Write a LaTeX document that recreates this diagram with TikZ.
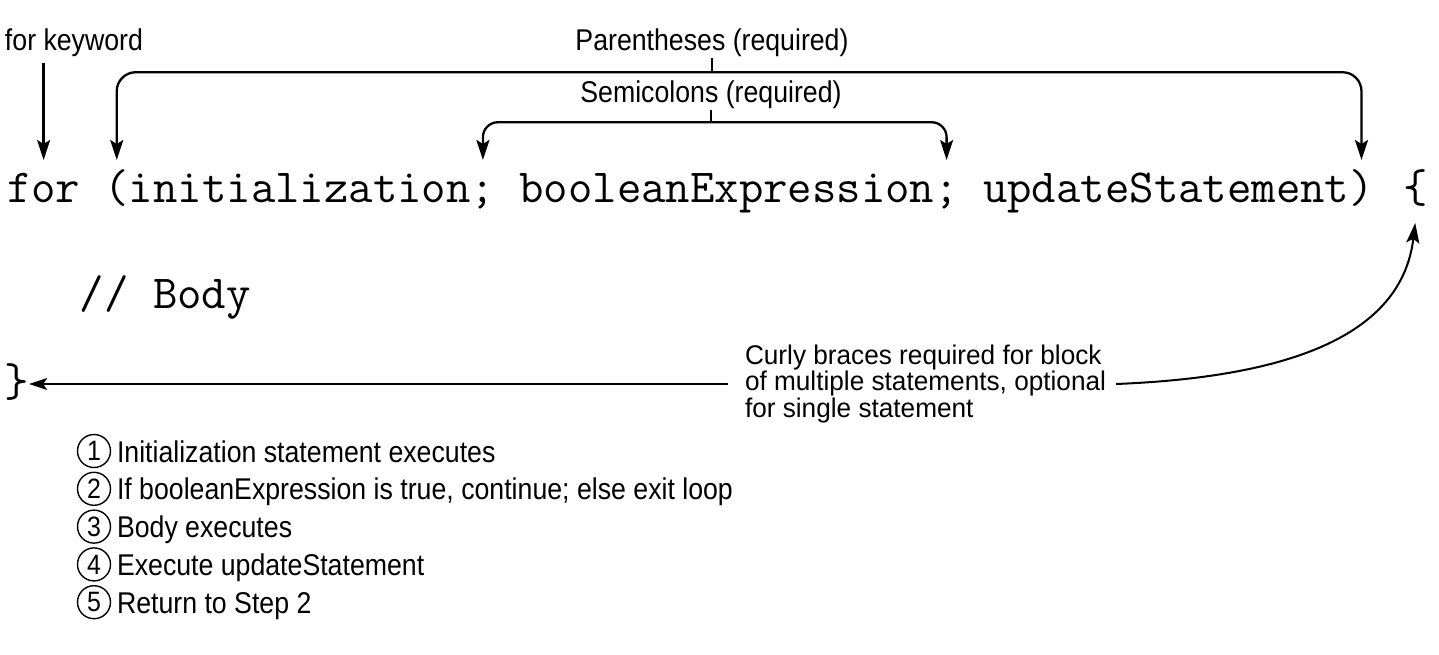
\documentclass[tikz,border=0pt]{standalone}
\usepackage{fontspec}
\setmainfont[FakeStretch=0.89]{Liberation Sans}
\newfontfamily\curlyfont[FakeStretch=0.97]{Liberation Sans}
\usetikzlibrary{arrows.meta,calc}
\begin{document}
\begin{tikzpicture}[x=1pt,y=-1pt,
  lbl/.style={font=\fontsize{30}{34}\selectfont, inner sep=0pt, outer sep=0pt},
  code/.style={font=\ttfamily\fontsize{47.4}{50}\selectfont, inner sep=0pt, outer sep=0pt, anchor=base west, text height=30pt, text depth=9pt},
  sp/.style={xshift=24.3pt},
  arr/.style={line width=2.3pt, -{Stealth[length=20pt,width=13pt,inset=4pt]}},
  barr/.style={line width=2.3pt, {Stealth[length=20pt,width=13pt,inset=4pt]}-{Stealth[length=20pt,width=13pt,inset=4pt]}, rounded corners=19pt},
  sarr/.style={line width=2.3pt, {Stealth[length=20pt,width=13pt,inset=4pt]}-{Stealth[length=20pt,width=13pt,inset=4pt]}, rounded corners=15pt},
  thinarr/.style={line width=1.4pt, -{Stealth[length=18pt,width=12pt,inset=4pt]}},
  curvearr/.style={line width=2pt, -{Stealth[length=20pt,width=13pt,inset=4pt]}},
  tick/.style={line width=1.6pt},
  num/.style={circle, draw, line width=1.4pt, minimum size=33pt, inner sep=0pt, font=\fontsize{28}{28}\selectfont},
]
\useasboundingbox (0,0) rectangle (1439,654);

% labels
\node[lbl, anchor=base west] (kwlbl) at (5,50) {for keyword};
\node[lbl, anchor=base] (parlbl) at (712,50) {Parentheses (required)};
\node[lbl, anchor=base] (semlbl) at (711,102) {Semicolons (required)};

% code line
\node[code] (kw) at (7,202) {for};
\node[code] (lpar) at ([sp]kw.base east) {(};
\node[code] (init) at (lpar.base east) {initialization};
\node[code] (semi1) at (init.base east) {;};
\node[code] (bexp) at ([sp]semi1.base east) {booleanExpression};
\node[code] (semi2) at (bexp.base east) {;};
\node[code] (upd) at ([sp]semi2.base east) {updateStatement};
\node[code] (rpar) at (upd.base east) {)};
\node[code] (lbrace) at (1403,202) {\{};
\node[code] (body) at (7+3*24.3,308) {// Body};
\node[code, anchor=center] (rbrace) at (17,386) {\}};

% curly note
\node[inner sep=0pt, outer sep=0pt, align=left, anchor=west, font=\curlyfont\fontsize{27}{26.5}\selectfont] (curly) at (745,384)
  {Curly braces required for block\\of multiple statements, optional\\for single statement};

% list
\foreach \i/\t [count=\k from 0] in {1/Initialization statement executes,
  2/{If booleanExpression is true, continue; else exit loop},
  3/Body executes, 4/Execute updateStatement, 5/Return to Step 2} {
  \node[num] (n\i) at (94,451+\k*37.8) {\i};
  \node[lbl, anchor=base west] (t\i) at (117,462+\k*37.8) {\t};
}

% connectors
\draw[arr] ([yshift=-7pt]kwlbl.south -| kw.north) -- ([yshift=12pt]kw.north);

\coordinate (ptop) at ($(parlbl.south)+(0,16)$);
\draw[tick] ([yshift=-2pt]parlbl.south) -- (ptop);
\draw[barr] ([yshift=12pt]lpar.north) -- (lpar.north |- ptop) -- (rpar.north |- ptop) -- ([yshift=12pt]rpar.north);

\coordinate (stop) at ($(semlbl.south)+(0,14)$);
\draw[tick] ([yshift=-2pt]semlbl.south) -- (stop);
\draw[sarr] ([yshift=12pt]semi1.north) -- (semi1.north |- stop) -- (semi2.north |- stop) -- ([yshift=12pt]semi2.north);

\draw[thinarr] ([xshift=-17pt]curly.west) -- (curly.west -| rbrace.east);
\draw[curvearr] ([xshift=10pt]curly.east) .. controls +(200,-8) and +(-12,100) .. ([yshift=-12pt]lbrace.south);
\end{tikzpicture}
\end{document}
